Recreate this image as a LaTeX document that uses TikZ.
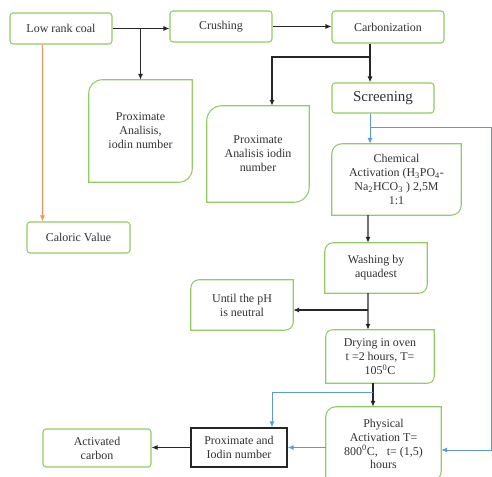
\documentclass[tikz,border=0pt]{standalone}
\usepackage{fontspec}
\setmainfont{Liberation Serif}
\usetikzlibrary{arrows.meta}
\definecolor{boxGreen}{RGB}{146,204,98}
\definecolor{lineBlue}{RGB}{91,155,213}
\definecolor{lineOrange}{RGB}{240,150,90}
\definecolor{textGray}{RGB}{50,50,50}
\tikzset{
    BOX_TEXT/.style={align=center, inner sep=0.5mm, text=textGray,
        font=\fontsize{10.2}{11.9}\selectfont},
    ROUND_BOX/.style={BOX_TEXT, draw=boxGreen, line width=0.9pt,
        rounded corners=0.9mm},
    DIAG_BOX/.style={BOX_TEXT, append after command={\pgfextra{\begin{pgfinterruptpath}
        \draw[boxGreen, line width=0.9pt] (\tikzlastnode.south west)
            -- ([yshift=-#1]\tikzlastnode.north west)
            arc[start angle=180, end angle=90, radius=#1]
            -- (\tikzlastnode.north east)
            -- ([yshift=#1]\tikzlastnode.south east)
            arc[start angle=0, end angle=-90, radius=#1] -- cycle;
        \end{pgfinterruptpath}}}},
    DIAG_BOX/.default=3mm,
    PLAIN_BOX/.style={BOX_TEXT, draw=black!85, line width=1.2pt},
    ARROW/.style={draw=black!85, line width=0.9pt,
        -{Latex[length=1.8mm, width=1.5mm]}},
    BLUE_ARROW/.style={ARROW, draw=lineBlue, line width=0.8pt},
    ORANGE_ARROW/.style={ARROW, draw=lineOrange}
}

\begin{document}
\begin{tikzpicture}[x=0.3mm, y=-0.3mm]
    \path[fill=white, use as bounding box] (0,0) rectangle (492,477);

    % boxes
    \node[ROUND_BOX, minimum width=30.6mm, minimum height=9.3mm] (coal) at (61, 28.5) {Low rank coal};
    \node[ROUND_BOX, minimum width=30.6mm, minimum height=9.3mm] (crush) at (221, 26.5) {Crushing};
    \node[ROUND_BOX, minimum width=33.6mm, minimum height=9.6mm] (carbon) at (388, 27) {Carbonization};
    \node[DIAG_BOX=4mm, minimum width=30.9mm, minimum height=30.6mm] (prox1) at (140.5, 131) {Proximate\\Analisis,\\iodin number};
    \node[DIAG_BOX=4.5mm, minimum width=30.6mm, minimum height=28.8mm] (prox2) at (258, 154) {Proximate\\Analisis iodin\\number};
    \node[ROUND_BOX, minimum width=30.6mm, minimum height=9mm,
        font=\fontsize{12.8}{14}\selectfont] (screen) at (383, 98) {Screening};
    \node[DIAG_BOX, minimum width=38.7mm, minimum height=21.3mm] (chem) at (396.5, 179.5)
        {Chemical\\Activation (H\textsubscript{3}PO\textsubscript{4}-\\Na\textsubscript{2}HCO\textsubscript{3} ) 2,5M\\1:1};
    \node[ROUND_BOX, minimum width=30.9mm, minimum height=9.3mm] (caloric) at (78.5, 237.5) {Caloric Value};
    \node[DIAG_BOX=2.5mm, minimum width=30.6mm, minimum height=15mm] (wash) at (376, 268) {Washing by\\aquadest};
    \node[DIAG_BOX=2.5mm, minimum width=30.6mm, minimum height=15mm] (until) at (242, 305) {Until the pH\\is neutral};
    \node[DIAG_BOX=2mm, minimum width=32.4mm, minimum height=15.9mm] (dry) at (380, 356.5)
        {Drying in oven\\t =2 hours, T=\\105\textsuperscript{0}C};
    \node[DIAG_BOX, minimum width=34.5mm, minimum height=22.2mm] (phys) at (383.5, 444)
        {Physical\\Activation T=\\800\textsuperscript{0}C,~~ t= (1,5)\\hours};
    \node[PLAIN_BOX, minimum width=28.8mm, minimum height=11.7mm] (proxio) at (239, 447.5) {Proximate and\\Iodin number};
    \node[ROUND_BOX, minimum width=32.4mm, minimum height=11.4mm] (activ) at (97, 448) {Activated\\carbon};

    % junctions
    \coordinate (j1) at (370, 57);
    \coordinate (j2) at (370, 127);
    \coordinate (j3) at (491, 127);
    \coordinate (j4) at (368, 310);
    \coordinate (j5) at (373, 392);

    % connectors
    \draw[ARROW] (coal.east) -- (crush.west |- coal.east);
    \draw[ARROW] (prox1.north |- coal.east) -- (prox1.north);
    \draw[ORANGE_ARROW] ([xshift=9.9mm]coal.south west) -- ([xshift=4.8mm]caloric.north west);
    \draw[ARROW] (crush.east) -- (carbon.west |- crush.east);
    \draw[ARROW] ([xshift=-5.4mm]carbon.south) coordinate (cb) -- (cb |- screen.north);
    \draw[ARROW] (j1) -| ([xshift=4.2mm]prox2.north);
    \draw[BLUE_ARROW] ([xshift=-3.9mm]screen.south) coordinate (sb) -- (sb |- chem.north);
    \draw[BLUE_ARROW] (j2) -- (j3) |- ([yshift=-1.8mm]phys.east);
    \draw[ARROW] ([xshift=-8.55mm]chem.south) -- ([xshift=-2.4mm]wash.north);
    \draw[ARROW] ([xshift=-2.4mm]wash.south) -- ([xshift=-3.6mm]dry.north);
    \draw[ARROW] (j4) -- (until.east |- j4);
    \draw[ARROW] ([xshift=-2.1mm]dry.south) coordinate (db) -- (db |- phys.north);
    \draw[BLUE_ARROW] (j5) -| ([xshift=9.9mm]proxio.north);
    \draw[BLUE_ARROW] (phys.west |- proxio.east) -- (proxio.east);
    \draw[ARROW] (proxio.west) -- (activ.east |- proxio.west);
\end{tikzpicture}
\end{document}
